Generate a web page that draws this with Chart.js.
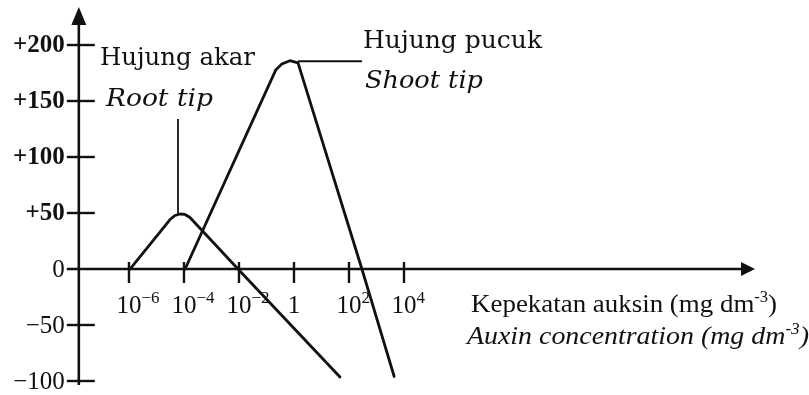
<!DOCTYPE html>
<html>
<head>
<meta charset="utf-8">
<script src="https://cdn.jsdelivr.net/npm/chart.js@4.4.1/dist/chart.umd.min.js"></script>
<style>
  html, body { margin: 0; padding: 0; background: #fff; }
  #wrap { width: 809px; height: 395px; position: relative; }
</style>
</head>
<body>
<div id="wrap"><canvas id="chart"></canvas></div>
<script>
"use strict";

// Root tip: auxin concentration (mg dm-3) vs growth response (%)
const rootConc = [1.09e-6, 1.87e-5, 3.1e-5, 4.7e-5, 7.2e-5, 1.09e-4, 1.65e-4, 9.2e-3, 47];
const rootResponse = [0, 37.5, 44.2, 47.8, 49.1, 48.7, 46, 0, -96.4];

// Shoot tip
const shootConc = [1.1e-4, 0.22, 0.36, 0.71, 1.4, 295, 4400];
const shootResponse = [0, 178, 183, 186, 184, 0, -96];

// Axis ticks
const yTicks = [200, 150, 100, 50, 0, -50, -100];
const yTickLabels = ["+200", "+150", "+100", "+50", "0", "\u221250", "\u2212100"];
const xTicks = [1e-6, 1e-4, 1e-2, 1, 1e2, 1e4];
const xTickBase = ["10", "10", "10", "1", "10", "10"];
const xTickExp = ["\u22126", "\u22124", "\u22122", "", "2", "4"];

const INK = "#111";
const SERIF = "'Liberation Serif', 'Times New Roman', serif";
const WIDE_SERIF = "'DejaVu Serif', serif";

const toPoints = (xs, ys) => xs.map((x, i) => ({ x, y: ys[i] }));

// draw text runs (for superscripts); optionally squeeze/stretch to a width
function drawRuns(ctx, runs, x, y, width) {
  let total = 0;
  for (const r of runs) {
    ctx.font = r.font;
    r.w = ctx.measureText(r.text).width;
    total += r.w;
  }
  const s = width ? width / total : 1;
  ctx.save();
  ctx.translate(x, y);
  ctx.scale(s, 1);
  ctx.textAlign = "left";
  ctx.textBaseline = "alphabetic";
  let cx = 0;
  for (const r of runs) {
    ctx.font = r.font;
    ctx.fillText(r.text, cx, r.dy || 0);
    cx += r.w;
  }
  ctx.restore();
}

const axesPlugin = {
  id: "handAxes",
  beforeDatasetsDraw(chart) {
    const { ctx, scales: { x, y } } = chart;
    const ax = x.getPixelForValue(1.5e-8);   // where the y axis stands
    const ay = y.getPixelForValue(0);        // where the x axis stands
    const xEnd = x.getPixelForValue(5.8e16);
    const yTop = y.getPixelForValue(234);
    const yBot = y.getPixelForValue(-103.5);

    ctx.save();
    ctx.strokeStyle = INK;
    ctx.fillStyle = INK;
    ctx.lineWidth = 2.6;

    // y axis + arrow
    ctx.beginPath();
    ctx.moveTo(ax, yBot);
    ctx.lineTo(ax, yTop + 16);
    ctx.stroke();
    ctx.beginPath();
    ctx.moveTo(ax, yTop);
    ctx.lineTo(ax - 7.5, yTop + 18);
    ctx.lineTo(ax + 7.5, yTop + 18);
    ctx.closePath();
    ctx.fill();

    // x axis + arrow
    ctx.beginPath();
    ctx.moveTo(ax - 12, ay);
    ctx.lineTo(xEnd - 12, ay);
    ctx.stroke();
    ctx.beginPath();
    ctx.moveTo(xEnd, ay);
    ctx.lineTo(xEnd - 14, ay - 7);
    ctx.lineTo(xEnd - 14, ay + 7);
    ctx.closePath();
    ctx.fill();

    // y ticks and labels
    ctx.lineWidth = 2.4;
    ctx.textAlign = "right";
    ctx.textBaseline = "middle";
    yTicks.forEach((v, i) => {
      const py = y.getPixelForValue(v);
      if (v !== 0) {
        ctx.beginPath();
        ctx.moveTo(ax - 12, py);
        ctx.lineTo(ax + 16, py);
        ctx.stroke();
      }
      ctx.font = (v > 0 ? "bold " : "") + "25px " + SERIF;
      ctx.fillText(yTickLabels[i], ax - 14, py + 1);
    });

    // x ticks and labels
    xTicks.forEach((v, i) => {
      const px = x.getPixelForValue(v);
      ctx.beginPath();
      ctx.moveTo(px, ay - 7);
      ctx.lineTo(px, ay + 14);
      ctx.stroke();
      ctx.font = "25px " + SERIF;
      const bw = ctx.measureText(xTickBase[i]).width;
      drawRuns(ctx, [
        { text: xTickBase[i], font: "25px " + SERIF },
        { text: xTickExp[i], font: "17px " + SERIF, dy: -10 },
      ], px - bw / 2, ay + 44);
    });

    ctx.restore();
  },
  afterDatasetsDraw(chart) {
    const { ctx, scales: { x, y } } = chart;
    ctx.save();
    ctx.strokeStyle = INK;
    ctx.fillStyle = INK;

    // leader lines
    ctx.lineWidth = 1.8;
    const rx = x.getPixelForValue(6.05e-5);
    ctx.beginPath();
    ctx.moveTo(rx, y.getPixelForValue(49));
    ctx.lineTo(rx, y.getPixelForValue(134));
    ctx.stroke();
    const sy = y.getPixelForValue(185.5);
    ctx.beginPath();
    ctx.moveTo(x.getPixelForValue(1.4), sy);
    ctx.lineTo(x.getPixelForValue(295), sy);
    ctx.stroke();

    // curve names
    const at = (cx, cy) => [x.getPixelForValue(cx), y.getPixelForValue(cy)];
    drawRuns(ctx, [{ text: "Hujung akar", font: "24px " + WIDE_SERIF }], ...at(8.8e-8, 182), 155);
    drawRuns(ctx, [{ text: "Root tip", font: "italic 24px " + WIDE_SERIF }], ...at(1.46e-7, 145.5), 107);
    drawRuns(ctx, [{ text: "Hujung pucuk", font: "24px " + WIDE_SERIF }], ...at(324, 197.3), 179);
    drawRuns(ctx, [{ text: "Shoot tip", font: "italic 24px " + WIDE_SERIF }], ...at(380, 161.6), 118);

    // x axis title
    drawRuns(ctx, [
      { text: "Kepekatan auksin (mg dm", font: "26px " + SERIF },
      { text: "-3", font: "16px " + SERIF, dy: -10 },
      { text: ")", font: "26px " + SERIF },
    ], ...at(2.75e6, -38.4), 306);
    drawRuns(ctx, [
      { text: "Auxin concentration (mg dm", font: "italic 26px " + SERIF },
      { text: "-3", font: "italic 16px " + SERIF, dy: -10 },
      { text: ")", font: "italic 26px " + SERIF },
    ], ...at(1.95e6, -67), 342);

    ctx.restore();
  },
};

const lineStyle = {
  borderColor: INK,
  backgroundColor: INK,
  borderWidth: 2.8,
  pointRadius: 0,
  showLine: true,
  tension: 0,
  fill: false,
  borderJoinStyle: "round",
  borderCapStyle: "round",
};

new Chart(document.getElementById("chart"), {
  type: "scatter",
  data: {
    datasets: [
      { label: "Root tip", data: toPoints(rootConc, rootResponse), ...lineStyle },
      { label: "Shoot tip", data: toPoints(shootConc, shootResponse), ...lineStyle },
    ],
  },
  options: {
    responsive: true,
    maintainAspectRatio: false,
    animation: false,
    devicePixelRatio: 1,
    layout: { padding: 0 },
    plugins: { legend: { display: false }, tooltip: { enabled: false } },
    scales: {
      x: { type: "logarithmic", display: false, min: Math.pow(10, -10.69), max: Math.pow(10, 18.727) },
      y: { type: "linear", display: false, min: -112.5, max: 240.2 },
    },
  },
  plugins: [axesPlugin],
});
</script>
</body>
</html>
